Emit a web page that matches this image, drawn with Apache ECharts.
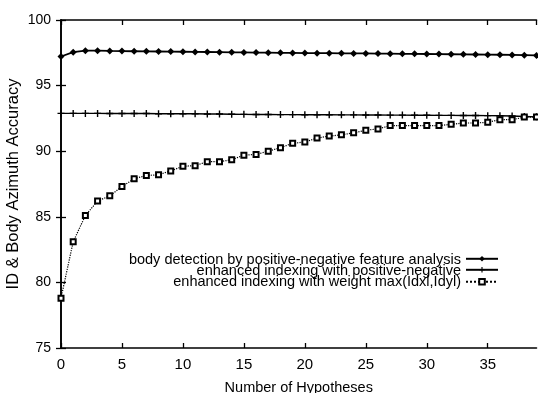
<!DOCTYPE html>
<html>
<head>
<meta charset="utf-8">
<script src="https://cdn.jsdelivr.net/npm/echarts@6/dist/echarts.min.js"></script>
<style>html,body{margin:0;padding:0;background:#fff}#c{width:538px;height:393px}</style>
</head>
<body>
<div id="c"></div>
<script>
var hypotheses = [];
for (var i = 0; i <= 39; i++) hypotheses.push(i);

var seriesNames = [
  'body detection by positive-negative feature analysis',
  'enhanced indexing with positive-negative',
  'enhanced indexing with weight max(Idxl,Idyl)'
];

var bodyDetection = [97.22, 97.55, 97.66, 97.66, 97.64, 97.63, 97.62, 97.61, 97.6, 97.59,
  97.58, 97.57, 97.56, 97.55, 97.54, 97.53, 97.52, 97.51, 97.5, 97.49,
  97.48, 97.47, 97.47, 97.46, 97.45, 97.45, 97.44, 97.43, 97.42, 97.42,
  97.41, 97.4, 97.39, 97.38, 97.37, 97.36, 97.35, 97.34, 97.32, 97.3];

var enhancedPosNeg = [92.88, 92.88, 92.88, 92.88, 92.87, 92.87, 92.87, 92.87, 92.86, 92.86,
  92.86, 92.85, 92.84, 92.83, 92.82, 92.81, 92.8, 92.8, 92.79, 92.79,
  92.78, 92.78, 92.78, 92.77, 92.77, 92.76, 92.76, 92.75, 92.75, 92.74,
  92.74, 92.73, 92.73, 92.72, 92.72, 92.71, 92.7, 92.68, 92.65, 92.62];

var enhancedWeight = [78.8, 83.1, 85.1, 86.2, 86.6, 87.3, 87.9, 88.15, 88.2, 88.5,
  88.85, 88.9, 89.2, 89.2, 89.35, 89.7, 89.75, 90.0, 90.27, 90.6,
  90.7, 91.0, 91.15, 91.25, 91.4, 91.6, 91.7, 91.95, 91.95, 91.95,
  91.95, 91.95, 92.05, 92.15, 92.15, 92.2, 92.4, 92.4, 92.6, 92.6];

var xTicks = [0, 5, 10, 15, 20, 25, 30, 35];
var yTicks = [75, 80, 85, 90, 95, 100];

function pairs(vals) {
  return vals.map(function (v, i) { return [hypotheses[i], v]; });
}

var FONT = 'Liberation Sans';
var chart = echarts.init(document.getElementById('c'), null, {renderer: 'canvas'});

var axisLine = {show: true, lineStyle: {color: '#000', width: 1.6}};
var tick = {show: true, inside: true, length: 5, lineStyle: {color: '#000', width: 1.3}};
var PLUS = 'path://M4,0L6,0L6,4L10,4L10,6L6,6L6,10L4,10L4,6L0,6L0,4L4,4Z';
var rowCenters = [259.5, 270.5, 281.5];

function legendAt(item, center) {
  return {
    data: [item],
    right: 39,
    top: center - 3.5,
    orient: 'vertical',
    align: 'right',
    itemWidth: 32,
    itemHeight: 7,
    padding: 0,
    selectedMode: false,
    formatter: function () { return ''; },
    textStyle: {fontFamily: FONT, fontSize: 7, color: '#000', lineHeight: 7}
  };
}

function legendText(name, center) {
  return {
    type: 'text', x: 461, y: center, silent: true,
    style: {text: name, align: 'right', verticalAlign: 'middle',
      fontFamily: FONT, fontSize: 14.5, fill: '#000'}
  };
}

chart.setOption({
  animation: false,
  backgroundColor: '#fff',
  grid: {left: 61, right: 1.5, top: 20, bottom: 45, containLabel: false, outerBoundsMode: 'none'},
  legend: [
    legendAt(seriesNames[0], rowCenters[0]),
    legendAt(seriesNames[1], rowCenters[1]),
    legendAt(seriesNames[2], rowCenters[2])
  ],
  graphic: [
    legendText(seriesNames[0], rowCenters[0]),
    legendText(seriesNames[1], rowCenters[1]),
    legendText(seriesNames[2], rowCenters[2])
  ],
  xAxis: [{
    type: 'value', min: 0, max: 39, interval: 5, position: 'bottom',
    axisLine: axisLine, axisTick: tick, splitLine: {show: false},
    axisLabel: {color: '#000', fontFamily: FONT, fontSize: 15, margin: 9, showMaxLabel: false,
      formatter: function (v) { return xTicks.indexOf(v) >= 0 ? String(v) : ''; }},
    name: 'Number of Hypotheses', nameLocation: 'middle', nameGap: 32, nameMoveOverlap: false,
    nameTextStyle: {color: '#000', fontFamily: FONT, fontSize: 14.5}
  }, {
    type: 'value', min: 0, max: 39, interval: 5, position: 'top',
    axisLine: axisLine, axisTick: tick, splitLine: {show: false}, axisLabel: {show: false}
  }],
  yAxis: [{
    type: 'value', min: 75, max: 100, interval: 5, position: 'left',
    axisLine: axisLine, axisTick: tick, splitLine: {show: false},
    axisLabel: {color: '#000', fontFamily: FONT, fontSize: 14, margin: 10,
      formatter: function (v) { return yTicks.indexOf(v) >= 0 ? String(v) : ''; }},
    name: 'ID & Body Azimuth Accuracy', nameLocation: 'middle', nameGap: 39, nameMoveOverlap: false,
    nameTextStyle: {color: '#000', fontFamily: FONT, fontSize: 16.5}
  }, {
    type: 'value', min: 75, max: 100, interval: 5, position: 'right',
    axisLine: axisLine, axisTick: tick, splitLine: {show: false}, axisLabel: {show: false}
  }],
  series: [{
    name: seriesNames[0], type: 'line', data: pairs(bodyDetection),
    symbol: 'diamond', symbolSize: 7, showAllSymbol: true,
    lineStyle: {color: '#000', width: 1.8}, itemStyle: {color: '#000'}
  }, {
    name: seriesNames[1], type: 'line', data: pairs(enhancedPosNeg),
    symbol: PLUS, symbolSize: 7, symbolKeepAspect: true, showAllSymbol: true,
    lineStyle: {color: '#000', width: 1.4}, itemStyle: {color: '#000'}
  }, {
    name: seriesNames[2], type: 'line', data: pairs(enhancedWeight),
    symbol: 'emptyRect', symbolSize: 5, showAllSymbol: true,
    lineStyle: {color: '#000', width: 1.2, type: 'dotted'},
    itemStyle: {color: '#000', borderColor: '#000', borderWidth: 1.5}
  }]
});
</script>
</body>
</html>
